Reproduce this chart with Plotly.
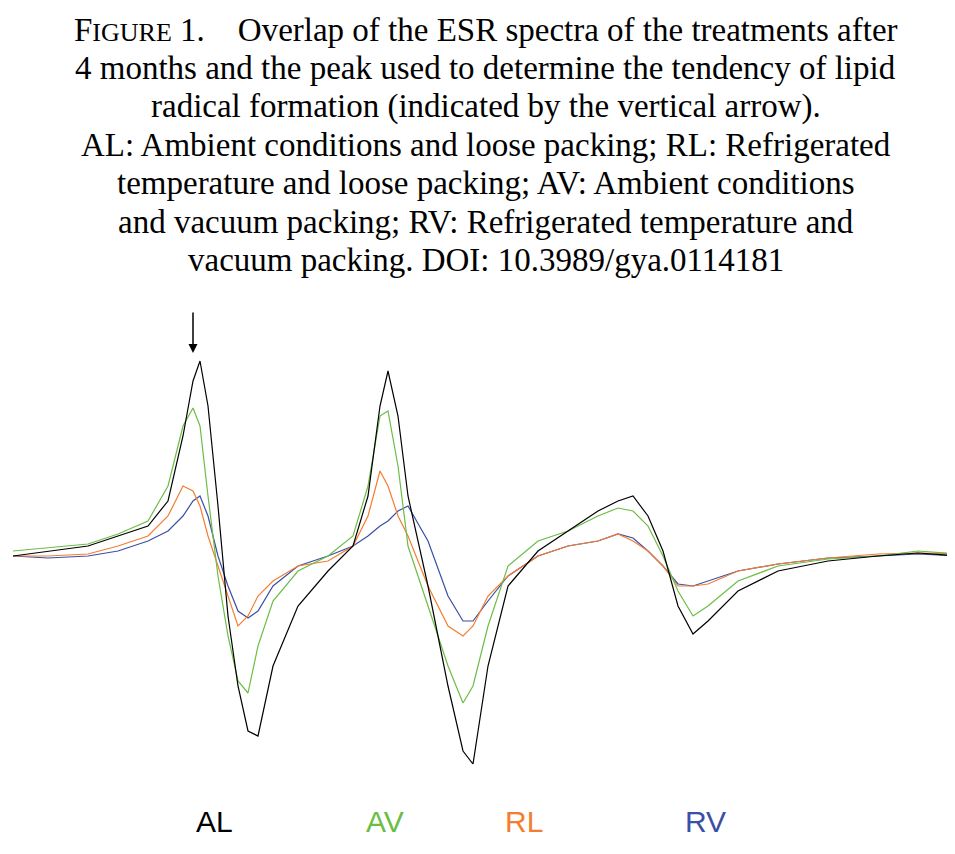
import plotly.graph_objects as go

# field position (arbitrary units) and signal for each treatment
field = [5, 40, 80, 110, 140, 160, 175, 185, 192, 200, 210, 220, 230, 240, 250, 265, 290, 320, 345, 360,
         372, 380, 390, 400, 420, 440, 455, 465, 480, 500, 530, 560, 590, 610, 625, 640, 655, 670, 685, 700,
         730, 770, 820, 870, 910, 950]
al = [0, 5, 10, 20, 30, 55, 120, 175, 195, 150, 50, -60, -130, -175, -180, -110, -50, -15, 10, 60,
      150, 185, 140, 60, -30, -130, -195, -208, -110, -30, 5, 25, 45, 55, 60, 40, 5, -50, -78, -65,
      -35, -15, -5, 0, 3, 0]
av = [5, 8, 12, 22, 35, 70, 130, 148, 130, 60, -20, -80, -125, -137, -90, -45, -15, 0, 20, 70,
      140, 145, 90, 10, -50, -110, -147, -130, -70, -10, 15, 25, 40, 48, 45, 30, 0, -35, -60, -50,
      -25, -10, -3, 0, 5, 2]
rl = [0, 0, 2, 10, 20, 40, 70, 65, 50, 20, -10, -40, -70, -60, -40, -25, -10, -5, 10, 40,
      85, 70, 40, 20, -30, -70, -80, -70, -40, -20, 0, 10, 15, 22, 15, 5, -10, -30, -30, -28,
      -15, -8, -2, 2, 3, 2]
rv = [0, -2, 0, 5, 15, 25, 40, 55, 60, 40, 0, -30, -55, -62, -55, -30, -10, 0, 10, 20,
      30, 35, 45, 50, 15, -40, -65, -65, -45, -20, 0, 10, 15, 22, 18, 5, -10, -28, -30, -25,
      -15, -8, -2, 0, 2, 0]

series = [("AL", al, "#000000"), ("AV", av, "#6cbd45"), ("RL", rl, "#f47d30"), ("RV", rv, "#3a4fa6")]

caption_lines = [
    "F<span style='font-size:26px'>IGURE</span> 1.    Overlap of the ESR spectra of the treatments after",
    "4 months and the peak used to determine the tendency of lipid",
    "radical formation (indicated by the vertical arrow).",
    "AL: Ambient conditions and loose packing; RL: Refrigerated",
    "temperature and loose packing; AV: Ambient conditions",
    "and vacuum packing; RV: Refrigerated temperature and",
    "vacuum packing. DOI: 10.3989/gya.0114181",
]

fig = go.Figure()
for name, vals, col in series[::-1]:
    fig.add_trace(go.Scatter(x=field, y=vals, mode="lines", name=name,
                             line=dict(color=col, width=1.2)))

for i, line in enumerate(caption_lines):
    py = 22 + i * 38.3
    fig.add_annotation(text=line, xref="paper", yref="paper", x=0.5, y=(764 - py) / 474,
                       yanchor="middle", showarrow=False,
                       font=dict(family="Liberation Serif", size=33, color="black"))

# arrow marking the peak
fig.add_annotation(x=185, y=203, ax=0, ay=-42, showarrow=True, arrowhead=2,
                   arrowsize=1.2, arrowwidth=1.5, arrowcolor="black", text="")

label_x = [0.192, 0.394, 0.541, 0.757]
for (name, _, col), lx in zip(series, label_x):
    fig.add_annotation(text=name, xref="paper", yref="paper", x=lx, y=-0.143,
                       showarrow=False, font=dict(family="Liberation Sans", size=30, color=col))

fig.update_layout(width=955, height=854, showlegend=False,
                  paper_bgcolor="white", plot_bgcolor="white",
                  margin=dict(l=5, r=5, t=290, b=90))
fig.update_xaxes(range=[5, 950], visible=False)
fig.update_yaxes(range=[-216, 258], visible=False)

fig.write_html("out.html")
